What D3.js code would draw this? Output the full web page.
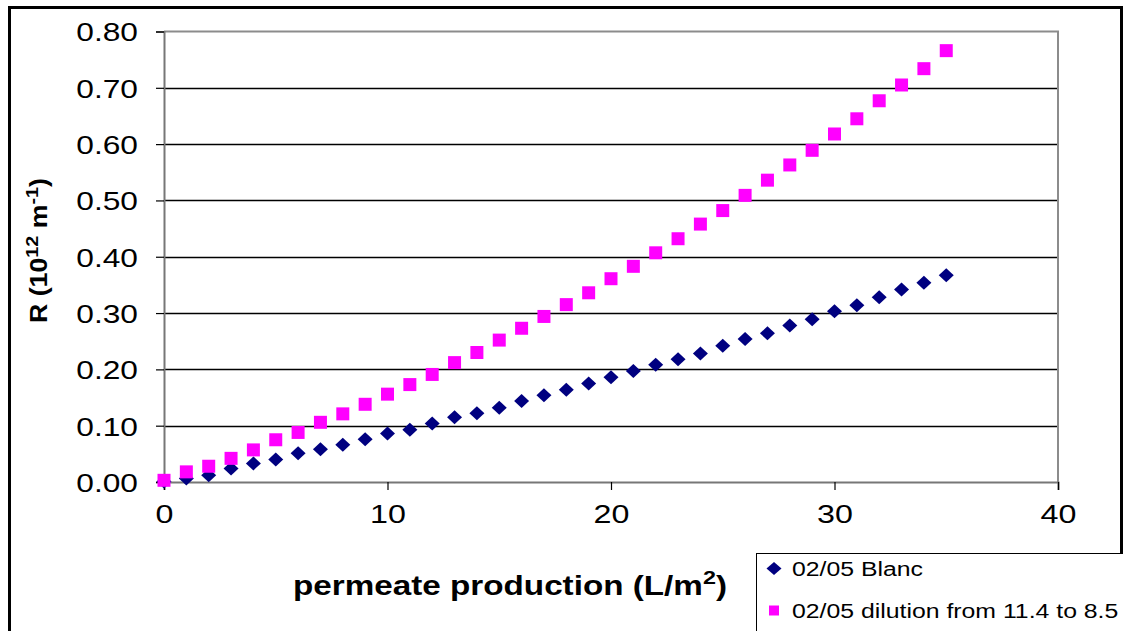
<!DOCTYPE html>
<html>
<head>
<meta charset="utf-8">
<script src="https://cdn.jsdelivr.net/npm/d3@7"></script>
<style>
  html, body { margin: 0; padding: 0; background: #fff; }
  svg { display: block; }
  text { font-family: "Liberation Sans", Arial, sans-serif; }
</style>
</head>
<body>
<svg id="chart" width="1123" height="631"></svg>
<script>
// Permeate production (L/m2), one reading per litre
const production = d3.range(0, 36);

// Resistance R (10^12 m^-1), series "02/05 Blanc"
const blanc = [
  0.001, 0.006, 0.012, 0.024, 0.033, 0.040, 0.051, 0.058, 0.066, 0.076,
  0.086, 0.093, 0.104, 0.115, 0.122, 0.132, 0.144, 0.154, 0.164, 0.175,
  0.186, 0.197, 0.208, 0.218, 0.228, 0.242, 0.254, 0.264, 0.278, 0.289,
  0.303, 0.314, 0.328, 0.342, 0.354, 0.367
];

// Resistance R (10^12 m^-1), series "02/05 dilution from 11.4 to 8.5"
const dilution = [
  0.003, 0.018, 0.028, 0.042, 0.057, 0.075, 0.088, 0.106, 0.121, 0.138,
  0.156, 0.173, 0.191, 0.212, 0.230, 0.252, 0.273, 0.294, 0.315, 0.336,
  0.361, 0.383, 0.407, 0.432, 0.458, 0.482, 0.509, 0.536, 0.563, 0.589,
  0.618, 0.645, 0.677, 0.705, 0.734, 0.766
];

const seriesNames = ["02/05 Blanc", "02/05 dilution from 11.4 to 8.5"];
const xTicks = [0, 10, 20, 30, 40];
const yTicks = [0, 0.1, 0.2, 0.3, 0.4, 0.5, 0.6, 0.7, 0.8];

const svg = d3.select("#chart");
const W = 1123, H = 631;
const plot = { left: 164, right: 1058, top: 31.5, bottom: 482 };

const x = d3.scaleLinear().domain([0, 40]).range([plot.left, plot.right]);
const y = d3.scaleLinear().domain([0, 0.8]).range([plot.bottom, plot.top]);

// widen glyphs horizontally by a factor, keeping the anchor in place
function widen(sel, factor) {
  sel.each(function () {
    const len = this.getComputedTextLength();
    d3.select(this).attr("textLength", len * factor).attr("lengthAdjust", "spacingAndGlyphs");
  });
}

svg.append("rect").attr("width", W).attr("height", H).attr("fill", "#fff");

// outer chart frame
svg.append("rect")
  .attr("x", 9.5).attr("y", 7.5).attr("width", 1112).attr("height", 700)
  .attr("fill", "none").attr("stroke", "#000").attr("stroke-width", 3);

// horizontal gridlines
svg.append("g")
  .selectAll("line")
  .data(yTicks.filter(d => d > 0 && d < 0.8))
  .join("line")
  .attr("x1", plot.left).attr("x2", plot.right)
  .attr("y1", d => Math.round(y(d)) + 0.5).attr("y2", d => Math.round(y(d)) + 0.5)
  .attr("stroke", "#000").attr("stroke-width", 1.3);

// plot area border (top and right)
svg.append("path")
  .attr("d", `M${plot.left},${plot.top} H${plot.right} V${plot.bottom}`)
  .attr("fill", "none").attr("stroke", "#8c8c8c").attr("stroke-width", 2);

// y axis
const yAxis = svg.append("g")
  .attr("transform", `translate(${plot.left},0)`)
  .call(d3.axisLeft(y).tickValues(yTicks).tickFormat(d3.format(".2f")).tickSize(8).tickPadding(18));
yAxis.select(".domain").attr("stroke", "#777").attr("stroke-width", 2);
yAxis.selectAll(".tick line").attr("stroke", "#000").attr("stroke-width", 1.2);
yAxis.selectAll(".tick text")
  .attr("font-size", 26).attr("fill", "#000")
  .attr("font-family", "'Liberation Sans', Arial, sans-serif")
  .attr("dy", "0.36em")
  .call(widen, 1.22);

// x axis
const xAxis = svg.append("g")
  .attr("transform", `translate(0,${plot.bottom})`)
  .call(d3.axisBottom(x).tickValues(xTicks).tickFormat(d3.format("d")).tickSize(8).tickPadding(14));
xAxis.select(".domain").attr("stroke", "#777").attr("stroke-width", 2);
xAxis.selectAll(".tick line").attr("stroke", "#000").attr("stroke-width", 1.2);
xAxis.selectAll(".tick text")
  .attr("font-size", 26).attr("fill", "#000")
  .attr("font-family", "'Liberation Sans', Arial, sans-serif")
  .attr("dy", "0.72em")
  .call(widen, 1.24);

// markers
const diamond = (hw, hh) => `M0,${-hh} L${hw},0 L0,${hh} L${-hw},0 Z`;
const square = s => `M${-s / 2},${-s / 2} h${s} v${s} h${-s} Z`;

svg.append("g")
  .selectAll("path")
  .data(production.map((p, i) => [p, blanc[i]]))
  .join("path")
  .attr("transform", d => `translate(${x(d[0])},${y(d[1])})`)
  .attr("d", diamond(7.5, 7))
  .attr("fill", "#000080");

svg.append("g")
  .selectAll("path")
  .data(production.map((p, i) => [p, dilution[i]]))
  .join("path")
  .attr("transform", d => `translate(${x(d[0])},${y(d[1])})`)
  .attr("d", square(13))
  .attr("fill", "#ff00ff");

// y axis title
const yTitle = svg.append("text")
  .attr("transform", `translate(47,${250.5}) rotate(-90)`)
  .attr("text-anchor", "middle")
  .attr("font-size", 23).attr("font-weight", "bold").attr("fill", "#000");
yTitle.append("tspan").text("R (10");
yTitle.append("tspan").attr("font-size", 17).attr("dy", -9).text("12");
yTitle.append("tspan").attr("dy", 9).text(" m");
yTitle.append("tspan").attr("font-size", 17).attr("dy", -9).text("-1");
yTitle.append("tspan").attr("dy", 9).text(")");
yTitle.attr("textLength", 145).attr("lengthAdjust", "spacingAndGlyphs");

// x axis title
const xTitle = svg.append("text")
  .attr("x", 293).attr("y", 595)
  .attr("font-size", 27).attr("font-weight", "bold").attr("fill", "#000");
xTitle.append("tspan").text("permeate production (L/m");
xTitle.append("tspan").attr("font-size", 19).attr("dy", -11).text("2");
xTitle.append("tspan").attr("dy", 11).text(")");
xTitle.attr("textLength", 434).attr("lengthAdjust", "spacingAndGlyphs");

// legend
const legend = svg.append("g");
legend.append("rect")
  .attr("x", 756.5).attr("y", 553.5).attr("width", 400).attr("height", 120)
  .attr("fill", "#fff").attr("stroke", "#000").attr("stroke-width", 1);

const legendRows = [
  { name: seriesNames[0], cy: 568.5, mark: diamond(7.5, 6.5), color: "#000080" },
  { name: seriesNames[1], cy: 610.5, mark: square(10), color: "#ff00ff" }
];
const rows = legend.selectAll("g.row").data(legendRows).join("g").attr("class", "row");
rows.append("path")
  .attr("transform", d => `translate(774,${d.cy})`)
  .attr("d", d => d.mark)
  .attr("fill", d => d.color);
rows.append("text")
  .attr("x", 792).attr("y", d => d.cy + 7.5)
  .attr("font-size", 20).attr("fill", "#000")
  .text(d => d.name)
  .call(widen, 1.24);
</script>
</body>
</html>
